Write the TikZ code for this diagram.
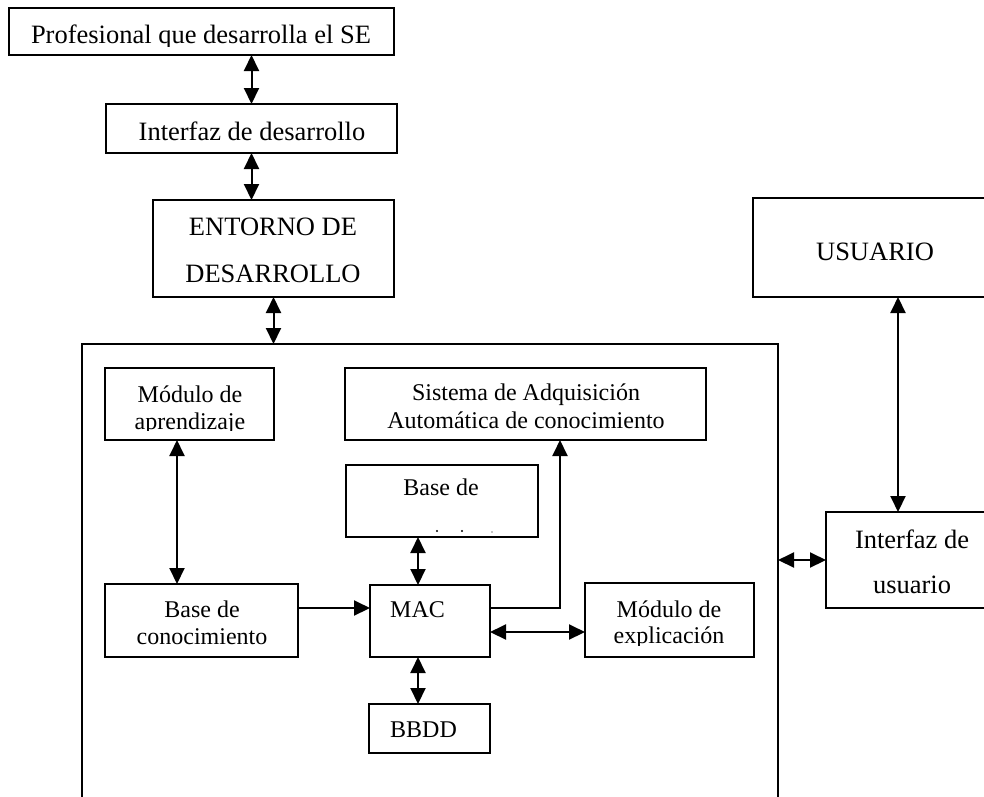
\documentclass[tikz,border=0pt]{standalone}
\usepackage{fontspec}
\setmainfont{Liberation Serif}
\usetikzlibrary{arrows.meta}

% frame given by its left, top, right and bottom edges (y grows downwards)
\newcommand{\frameat}[5]{%
  \node[frame, minimum width={#4-#2}, minimum height={#5-#3}] (#1) at ({(#2+#4)/2},{(#3+#5)/2}) {};}

\begin{document}
\begin{tikzpicture}[x=1pt, y=-1pt,
  frame/.style={draw, line width=2pt, inner sep=0pt, outer sep=0pt, fill=none},
  big/.style={font=\fontsize{26.5}{30}\selectfont, inner sep=0pt, anchor=base},
  small/.style={font=\fontsize{24}{28}\selectfont, inner sep=0pt, anchor=base},
  smallL/.style={small, anchor=base west},
  link/.style={line width=2pt},
  tip/.tip={Triangle[length=16pt, width=15pt]},
  both/.style={link, tip-tip},
  one/.style={link, -tip}]
\useasboundingbox (0,0) rectangle (984,796);
\clip (0,0) rectangle (984,796);

% development side
\frameat{prof}{9}{8}{394}{55}
\begin{scope}
  \clip (prof.north west) rectangle (prof.east |- 0,46);
  \node[big] (profT) at (201,43.5) {Profesional que desarrolla el SE};
\end{scope}

\frameat{idev}{106}{104}{397}{153}
\node[big] (idevT) at (252,140) {Interfaz de desarrollo};

\frameat{ent}{153}{200}{394}{297}
\node[big] (entA) at (273,235) {ENTORNO DE};
\node[big] (entB) at (273,282) {DESARROLLO};

% the expert system shell
\frameat{shell}{82}{344}{778}{840}

\frameat{apr}{105}{368}{274}{440}
\begin{scope}
  \clip (apr.north west) rectangle (apr.east |- 0,430);
  \node[small] (aprA) at (190,402) {Módulo de};
  \node[small] (aprB) at (190,429) {aprendizaje};
\end{scope}

\frameat{sis}{345}{368}{706}{440}
\node[small] (sisA) at (526,400) {Sistema de Adquisición};
\node[small] (sisB) at (526,428) {Automática de conocimiento};

\frameat{bfx}{346}{465}{538}{537}
\node[small] (bfxT) at (441,495) {Base de};
\fill (437,531) circle (1.1pt);
\fill (462,531) circle (1.1pt);
\fill (492,532) circle (0.7pt);

\frameat{bc}{105}{584}{298}{657}
\node[small] (bcA) at (202,617) {Base de};
\node[small] (bcB) at (202,644) {conocimiento};

\frameat{mac}{370}{585}{490}{657}
\node[smallL] (macT) at (390,617) {MAC};

\frameat{exp}{585}{583}{754}{657}
\begin{scope}
  \clip (exp.north west) rectangle (exp.east |- 0,645.5);
  \node[small] (expA) at (669,617) {Módulo de};
  \node[small] (expB) at (669,643.5) {explicación};
\end{scope}

\frameat{bbdd}{369}{704}{490}{753}
\node[smallL] (bbddT) at (390,737) {BBDD};

% user side
\frameat{usr}{753}{198}{997}{297}
\node[big] (usrT) at (875,260) {USUARIO};

\frameat{iu}{826}{512}{998}{608}
\node[big] (iuA) at (912,548) {Interfaz de};
\node[big] (iuB) at (912,593) {usuario};

% connectors
\draw[both] (prof.south -| idev.north) -- (idev.north);
\draw[both] (idev.south -| idev.north) -- (idev.south |- ent.north);
\draw[both] (ent.south) -- (ent.south |- shell.north);
\draw[both] ([xshift=-12.5pt]apr.south) -- ([xshift=-12.5pt]apr.south |- bc.north);
\draw[one] ([yshift=12.5pt]bc.east) -- ([yshift=12.5pt]bc.east -| mac.west);
\draw[one] ([yshift=13pt]mac.east) -| ([xshift=34.5pt]sis.south);
\draw[both] ([xshift=-12pt]mac.north |- bfx.south) -- ([xshift=-12pt]mac.north);
\draw[both] ([yshift=-11pt]mac.east) -- ([yshift=-11pt]mac.east -| exp.west);
\draw[both] ([xshift=-12pt]mac.south) -- ([xshift=-12pt]mac.south |- bbdd.north);
\draw[both] ([xshift=23pt]usr.south) -- ([xshift=23pt]usr.south |- iu.north);
\draw[both] (iu.west -| shell.east) -- (iu.west);
\end{tikzpicture}
\end{document}
